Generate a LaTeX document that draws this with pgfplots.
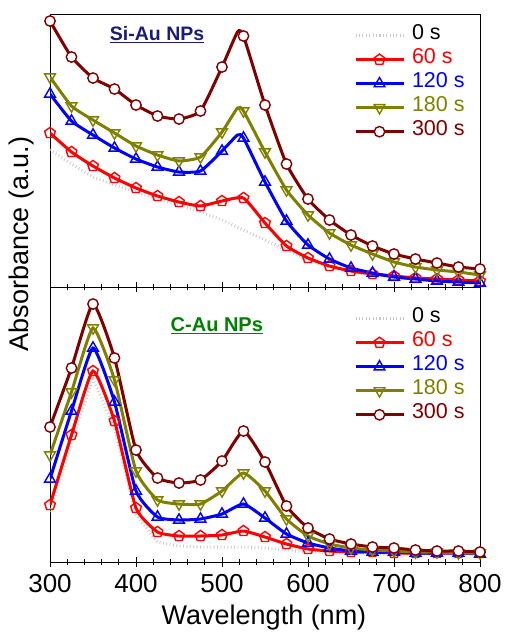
\documentclass[border=0pt]{standalone}
\usepackage{pgfplots}
\pgfplotsset{compat=1.18}
\usetikzlibrary{plotmarks}
\usepackage{fontspec}
\setmainfont{Liberation Sans}
\definecolor{cred}{RGB}{255,0,0}
\definecolor{cblue}{RGB}{0,0,255}
\definecolor{colive}{RGB}{128,128,0}
\definecolor{cdred}{RGB}{128,0,0}
\definecolor{cgrey}{RGB}{200,200,200}
\definecolor{navyl}{RGB}{26,26,128}
\definecolor{cgreen}{RGB}{0,128,0}
\pgfplotsset{
  every axis/.append style={
    scale only axis, width=430pt, xmin=300, xmax=800,
    xtick={300,400,...,800}, minor x tick num=4,
    ytick=\empty, xtick pos=bottom, tick align=center,
    major tick length=10pt, minor tick length=6pt,
    axis line style={line width=0.9pt}, every tick/.style={black, line width=0.9pt},
    /pgf/number format/assume math mode=true,
    legend cell align=left,
    legend style={draw=none, fill=none, inner sep=0pt, outer sep=0pt,
      font=\fontsize{21.5}{24}\selectfont, row sep=0pt,
      nodes={inner sep=0pt, text height=16pt, text depth=8pt},
      /tikz/column sep=7pt, anchor=north west},
    legend image code/.code={\draw[#1, mark indices={2}] plot coordinates {(0pt,0pt) (24pt,0pt) (48pt,0pt)};},
  },
  s0/.style={cgrey, line width=3pt, dash pattern=on 0.8pt off 2.6pt, no markers},
  sbase/.style={line width=3pt, smooth, tension=0.3},
  s60/.style={sbase, cred, mark=pentagon, mark size=5.6pt, mark options={solid, fill=white, line width=1.4pt}},
  s120/.style={sbase, cblue, mark=triangle, mark size=6.2pt, mark options={solid, fill=white, line width=1.4pt}},
  s180/.style={sbase, colive, mark=triangle, mark size=6.2pt, mark options={solid, fill=white, line width=1.4pt, rotate=180}},
  s300/.style={sbase, cdred, mark=*, mark size=5.2pt, mark options={solid, fill=white, line width=1.4pt}},
}
\begin{document}
\begin{tikzpicture}
\useasboundingbox (-50pt,14pt) rectangle (454pt,-618pt);
% ---------------- top panel ----------------
\begin{axis}[at={(0pt,0pt)}, anchor=north west, height=273pt, ymin=0, ymax=273,
  xticklabels=\empty,
  legend style={at={(axis description cs:0.707,0.9645)}}]
\addplot[s0] coordinates {(300,137)(325,123)(350,110)(375,102)(400,95)(425,88)(450,82)(475,75)(500,67)(525,57)(550,47)(575,37)(600,27)(625,20)(650,15)(675,12)(700,10)(725,8.5)(750,7)(775,6)(800,5)};
\addplot[s60] coordinates {(300,154)(325,135)(350,121)(375,109)(400,99)(425,91)(450,85)(475,81)(500,86)(525,89)(550,64)(575,41)(600,29)(625,21)(650,16)(675,13)(700,11)(725,9)(750,8)(775,7)(800,6)};
\addplot[s120, mark indices={1,2,3,4,5,6,7,8,9,11,12,13,14,15,16,17,18,19,20,21,22}] coordinates {(300,193)(325,166)(350,152)(375,139)(400,128)(425,120)(450,115)(475,116)(500,136)(518,152)(525,149)(550,105)(575,66)(600,42)(625,28)(650,19)(675,14)(700,10)(725,8)(750,6)(775,5)(800,4)};
\addplot[s180, mark indices={1,2,3,4,5,6,7,8,9,11,12,13,14,15,16,17,18,19,20,21,22}] coordinates {(300,210)(325,181)(350,167)(375,154)(400,141)(425,132)(450,126)(475,130)(500,155)(518,179)(525,176)(550,135)(575,97)(600,72)(625,54)(650,42)(675,33)(700,25)(725,20)(750,17)(775,15)(800,12)};
\addplot[s300, mark indices={1,2,3,4,5,6,7,8,9,11,12,13,14,15,16,17,18,19,20,21,22}] coordinates {(300,266)(325,230)(350,209)(375,198)(400,182)(425,171)(450,168)(475,176)(500,220)(518,255)(525,251)(550,182)(575,123)(600,88)(625,67)(650,52)(675,41)(700,33)(725,28)(750,24)(775,20)(800,18)};
\legend{\textcolor{black}{0 s},\textcolor{cred}{60 s},\textcolor{cblue}{120 s},\textcolor{colive}{180 s},\textcolor{cdred}{300 s}}
\node[font=\fontsize{19.5}{22}\bfseries, text=navyl] at (axis description cs:0.249,0.923) {\underline{Si-Au NPs}};
\end{axis}
% ---------------- bottom panel ----------------
\begin{axis}[at={(0pt,-273pt)}, anchor=north west, height=275pt, ymin=0, ymax=275,
  xticklabel style={font=\fontsize{26}{30}\selectfont, yshift=-4pt},
  legend style={at={(axis description cs:0.707,0.928)}}]
\addplot[s0] coordinates {(300,50)(325,120)(350,183)(375,133)(400,47)(425,20)(450,16)(475,15)(500,15)(525,15)(550,14)(575,12)(600,10)(625,9)(650,9)(675,8)(700,8)(725,8)(750,8)(775,8)(800,8)};
\addplot[s60] coordinates {(300,57)(325,127)(350,191)(375,141)(400,54)(425,30)(450,26)(475,26)(500,27)(525,31)(550,25)(575,18)(600,13)(625,11)(650,10)(675,10)(700,9)(725,9)(750,9)(775,9)(800,9)};
\addplot[s120] coordinates {(300,83)(325,151)(350,214)(375,160)(400,71)(425,45)(450,42)(475,43)(500,48)(525,58)(550,44)(575,28)(600,19)(625,14)(650,11)(675,10)(700,10)(725,9)(750,9)(775,9)(800,8)};
\addplot[s180] coordinates {(300,107)(325,170)(350,234)(375,182)(400,91)(425,62)(450,58)(475,58)(500,71)(525,89)(550,71)(575,43)(600,26)(625,18)(650,14)(675,12)(700,11)(725,10)(750,10)(775,9)(800,9)};
\addplot[s300] coordinates {(300,135)(325,194)(350,258)(375,204)(400,112)(425,84)(450,79)(475,82)(500,101)(525,131)(550,100)(575,56)(600,34)(625,23)(650,18)(675,15)(700,14)(725,12)(750,11)(775,11)(800,10)};
\legend{\textcolor{black}{0 s},\textcolor{cred}{60 s},\textcolor{cblue}{120 s},\textcolor{colive}{180 s},\textcolor{cdred}{300 s}}
\node[font=\fontsize{20}{22}\bfseries, text=cgreen] at (axis description cs:0.388,0.86) {\underline{C-Au NPs}};
\end{axis}
\node[font=\fontsize{27}{30}\selectfont] at (214pt,-604pt) {Wavelength (nm)};
\node[font=\fontsize{27}{30}\selectfont, rotate=90] at (-28pt,-230pt) {Absorbance (a.u.)};
\end{tikzpicture}
\end{document}
